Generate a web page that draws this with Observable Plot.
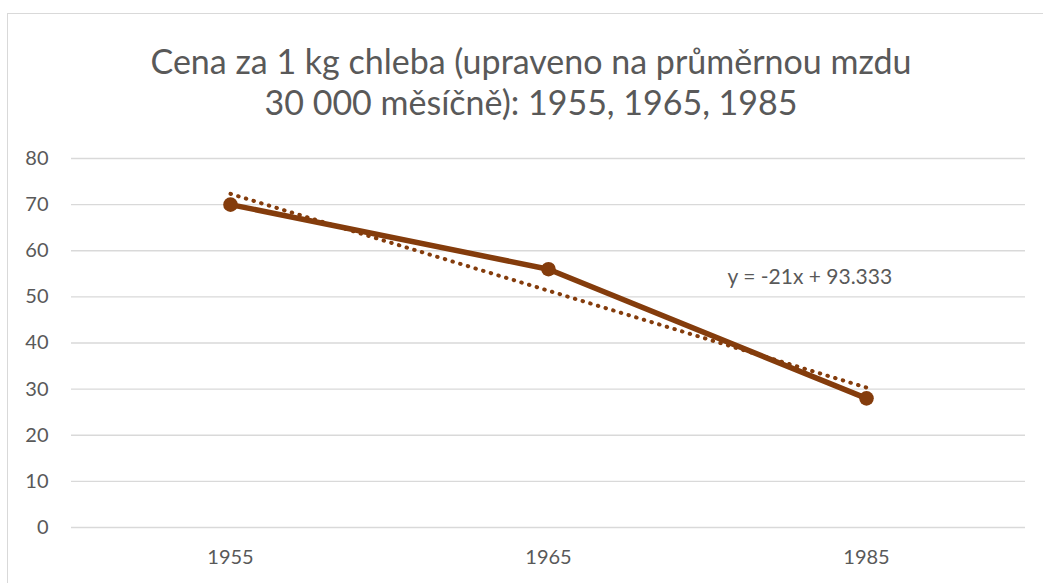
<!DOCTYPE html>
<html>
<head>
<meta charset="utf-8">
<script src="https://cdn.jsdelivr.net/npm/d3@7"></script>
<script src="https://cdn.jsdelivr.net/npm/@observablehq/plot@0.6"></script>
<style>
  html, body { margin: 0; padding: 0; background: #fff; }
  body { width: 1043px; height: 583px; position: relative; overflow: hidden; font-family: Lato, "Open Sans", sans-serif; }
  #frame { position: absolute; left: 7px; top: 13px; width: 1060px; height: 600px; border: 1px solid #d9d9d9; box-sizing: border-box; }
  #title { position: absolute; left: 0; top: 40px; width: 1062px; text-align: center; color: #595959; font-size: 34px; line-height: 41px; }
  #chart { position: absolute; left: 0; top: 0; }
</style>
</head>
<body>
<div id="frame"></div>
<div id="title">Cena za 1 kg chleba (upraveno na průměrnou mzdu<br>30 000 měsíčně): 1955, 1965, 1985</div>
<div id="chart"></div>
<script>
const years = ["1955", "1965", "1985"];
const prices = [70, 56, 28];
const trendValues = [72.333, 51.333, 30.333];
const trendLabel = "y = -21x + 93.333";
const yTicks = [0, 10, 20, 30, 40, 50, 60, 70, 80];

const data = years.map((y, i) => ({year: y, price: prices[i]}));
const trend = years.map((y, i) => ({year: y, value: trendValues[i]}));
const color = "#843C0C";

const chart = Plot.plot({
  width: 1043,
  height: 583,
  marginLeft: 71,
  marginRight: 18,
  marginTop: 158,
  marginBottom: 56,
  style: {background: "transparent", fontFamily: "Lato, 'Open Sans', sans-serif", fontSize: "20px"},
  x: {type: "point", domain: years, padding: 0.5, label: null},
  y: {domain: [0, 80], label: null},
  marks: [
    Plot.ruleY(yTicks, {stroke: "#d9d9d9", strokeWidth: 1.3, strokeOpacity: 1}),
    Plot.axisY({ticks: yTicks, tickSize: 0, tickPadding: 23, fontSize: 20, color: "#595959", label: null}),
    Plot.axisX({tickSize: 0, tickPadding: 22, fontSize: 20, color: "#595959", label: null}),
    Plot.line(trend, {x: "year", y: "value", stroke: color, strokeWidth: 4, strokeDasharray: "0.5 7.5", strokeLinecap: "round"}),
    Plot.line(data, {x: "year", y: "price", stroke: color, strokeWidth: 5.5}),
    Plot.dot(data, {x: "year", y: "price", r: 7.3, fill: color, stroke: "none"}),
    Plot.text([{year: "1985", v: 54.2}], {x: "year", y: "v", text: () => trendLabel, dx: -139, textAnchor: "start", fontSize: 21, fill: "#595959"})
  ]
});
document.getElementById("chart").append(chart);
</script>
</body>
</html>
